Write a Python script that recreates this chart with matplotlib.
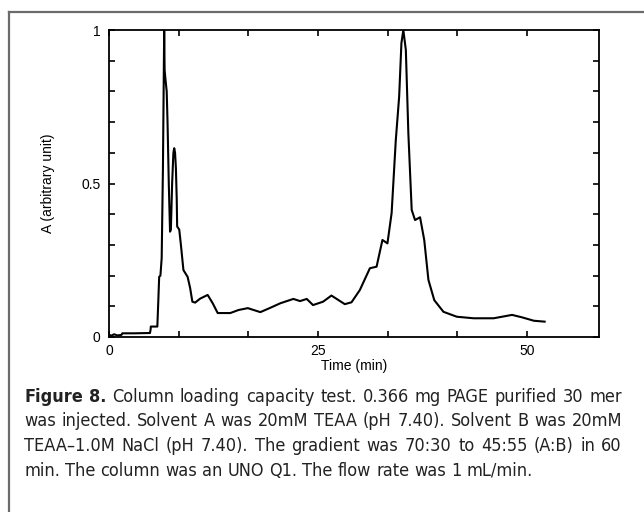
import matplotlib
matplotlib.use("Agg")
import matplotlib.pyplot as plt
from matplotlib.lines import Line2D

# chromatogram trace
time_min = [0.0, 0.3, 0.6, 1.0, 1.5, 1.6, 3.0, 4.9, 4.98, 5.0, 5.78, 5.9, 6.0, 6.15,
            6.3, 6.45, 6.6, 6.65, 6.75, 6.9, 7.0, 7.15, 7.3, 7.4, 7.55, 7.7, 7.8,
            7.9, 8.0, 8.1, 8.15, 8.4, 8.6, 8.9, 9.4, 9.7, 9.97, 10.3, 10.9, 11.8,
            12.4, 13.0, 14.5, 15.5, 16.6, 18.1, 19.2, 20.5, 22.05, 22.85, 23.65,
            24.4, 25.6, 26.6, 28.2, 29.0, 30.0, 31.2, 32.0, 32.7, 33.3, 33.8,
            34.3, 34.7, 34.97, 35.2, 35.5, 35.8, 36.2, 36.6, 37.2, 37.7, 38.2,
            38.9, 40.0, 41.6, 43.6, 46.0, 48.2, 49.4, 50.8, 52.1]
absorb = [0.008, 0.004, 0.009, 0.005, 0.007, 0.012, 0.012, 0.013, 0.025, 0.034,
          0.034, 0.12, 0.196, 0.2, 0.257, 0.55, 1.0, 0.87, 0.84, 0.80, 0.70, 0.50,
          0.343, 0.35, 0.50, 0.60, 0.615, 0.60, 0.55, 0.45, 0.36, 0.35, 0.30, 0.218,
          0.196, 0.16, 0.115, 0.112, 0.125, 0.137, 0.11, 0.078, 0.078, 0.088, 0.094,
          0.081, 0.094, 0.11, 0.124, 0.117, 0.124, 0.104, 0.115, 0.135, 0.107,
          0.113, 0.153, 0.224, 0.229, 0.316, 0.305, 0.404, 0.642, 0.783, 0.957,
          1.0, 0.935, 0.664, 0.414, 0.381, 0.39, 0.316, 0.186, 0.12, 0.082, 0.066,
          0.061, 0.061, 0.072, 0.064, 0.053, 0.05]

x_labeled = [0, 25, 50]
x_minor = [25 / 3, 50 / 3, 100 / 3, 125 / 3]
y_labeled = [0, 0.5, 1]
y_tick_text = ["0", "0.5", "1"]
y_minor = [0.1, 0.2, 0.3, 0.4, 0.6, 0.7, 0.8, 0.9]

caption = [
    "Column loading capacity test. 0.366 mg PAGE purified 30 mer",
    "was injected. Solvent A was 20mM TEAA (pH 7.40). Solvent B was 20mM",
    "TEAA\u20131.0M NaCl (pH 7.40). The gradient was 70:30 to 45:55 (A:B) in 60",
    "min. The column was an UNO Q1. The flow rate was 1 mL/min.",
]

plt.rcParams['font.family'] = ['Liberation Sans', 'DejaVu Sans']

fig = plt.figure(figsize=(6.44, 5.12), dpi=100)
ax = fig.add_axes([109 / 644, 1 - 337 / 512, 490 / 644, 307 / 512])

ax.plot(time_min, absorb, color='black', linewidth=1.5)
ax.set_xlim(0, 58.6)
ax.set_ylim(0, 1)

ax.set_xticks(x_labeled)
ax.set_xticks(x_minor, minor=True)
ax.set_yticks(y_labeled, y_tick_text)
ax.set_yticks(y_minor, minor=True)
ax.tick_params(which='both', direction='in', length=4.5, width=1.2,
               top=True, right=True, labelsize=10, colors='black')
ax.tick_params(axis='x', pad=5)
ax.tick_params(axis='y', pad=6)
for s in ax.spines.values():
    s.set_linewidth(1.3)

ax.set_xlabel("Time (min)", fontsize=10, labelpad=1)
ax.set_ylabel("A (arbitrary unit)", fontsize=10, labelpad=19)

# grey frame (top and left only)
fig.add_artist(Line2D([9 / 644, 1], [1 - 12 / 512, 1 - 12 / 512],
                      transform=fig.transFigure, color='#6b6b6b', linewidth=1.6))
fig.add_artist(Line2D([9 / 644, 9 / 644], [0, 1 - 12 / 512],
                      transform=fig.transFigure, color='#6b6b6b', linewidth=1.6))

# caption, justified word by word
fig.canvas.draw()
rend = fig.canvas.get_renderer()
left, right = 24, 622
base_y = [402, 426.5, 451, 475.5]
fs = 13
cap_kw = dict(fontsize=fs, family=['DejaVu Sans'], stretch='condensed')


def word_width(word, weight='normal'):
    t = fig.text(0, 0, word, weight=weight, **cap_kw)
    w = t.get_window_extent(rend).width
    t.remove()
    return w


space = word_width("a a") - word_width("aa")
for i, line in enumerate(caption):
    items = [(w, 'normal') for w in line.split(" ")]
    if i == 0:
        items = [("Figure", 'bold'), ("8.", 'bold')] + items
    widths = [word_width(w, wt) for w, wt in items]
    if i < len(caption) - 1:
        gap = (right - left - sum(widths)) / (len(items) - 1)
    else:
        gap = space
    x = left
    for (w, wt), wd in zip(items, widths):
        fig.text(x / 644, 1 - base_y[i] / 512, w, weight=wt, color='#222222',
                 va='baseline', **cap_kw)
        x += wd + gap

fig.savefig("out.png", dpi=100)
